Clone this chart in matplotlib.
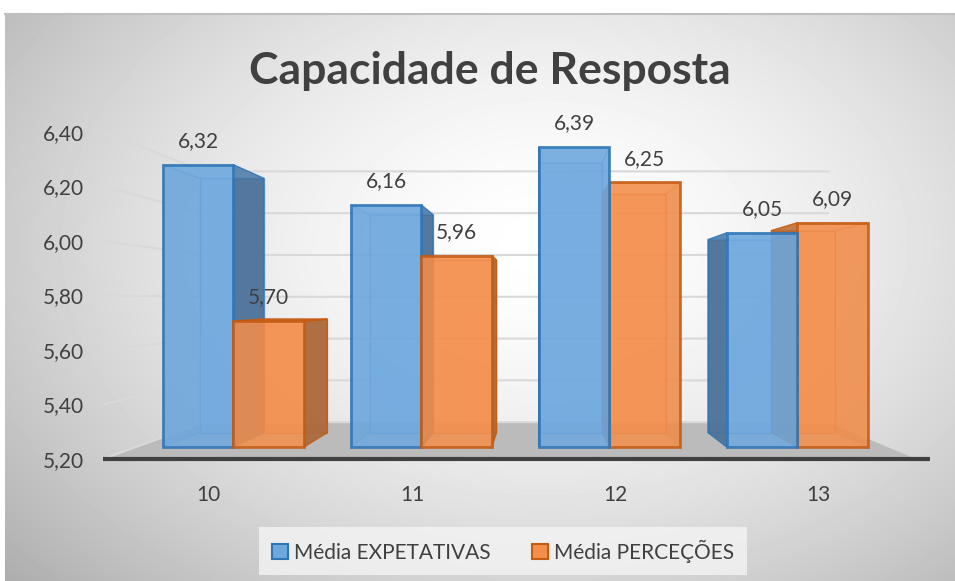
import matplotlib
matplotlib.use('Agg')
import matplotlib.pyplot as plt
import numpy as np
from matplotlib.patches import Polygon, Patch

# data
categories = ['10', '11', '12', '13']
expetativas = [6.32, 6.16, 6.39, 6.05]
percecoes = [5.70, 5.96, 6.25, 6.09]
series_names = ['Média EXPETATIVAS', 'Média PERCEÇÕES']
y_ticks = [5.20, 5.40, 5.60, 5.80, 6.00, 6.20, 6.40]
title = 'Capacidade de Resposta'

FONT = 'Lato'
TXT = '#404040'

# fake 3d: perspective toward a vanishing point (data coords)
VX, VY = 2.14, 5.78
S_FRONT, S_BACK, S_WALL = 0.925, 0.8325, 0.767
BAR_START, BAR_W = 0.145, 0.375
BASE = y_ticks[0]

def P(x, y, s):
  return (VX + (x - VX) * s, VY + (y - VY) * s)

def fmt(v):
  return f'{v:.2f}'.replace('.', ',')

W, H = 955, 581
fig = plt.figure(figsize=(W / 100, H / 100), dpi=100)
fig.patch.set_facecolor('white')

# radial gradient background of the chart area
bg = fig.add_axes([5 / W, 0, 1 - 5 / W, (H - 14) / H])
yy, xx = np.mgrid[0:567, 0:950]
r = np.hypot((xx - 540) / 620.0, (yy - 230) / 430.0)
shade = 1.0 - 0.25 * np.clip(r, 0, 1.3) ** 1.6
bg.imshow(shade, cmap='gray', vmin=0, vmax=1, aspect='auto', interpolation='bilinear')
bg.axis('off')
fig.add_artist(plt.Line2D([5 / W, 1], [1 - 14 / H, 1 - 14 / H], color='#BFBFBF', lw=1.5))

ax = fig.add_axes([103 / W, (H - 459) / H, 813 / W, 327 / H])
ax.patch.set_alpha(0)
ax.set_xlim(0, 4)
ax.set_ylim(5.2, 6.4)
for sp in ax.spines.values():
  sp.set_visible(False)

# floor
floor = [P(0, BASE, 1), P(4, BASE, 1), P(4, BASE, S_WALL), P(0, BASE, S_WALL)]
ax.add_patch(Polygon(floor, closed=True, facecolor='#BBBBBB', edgecolor='none', zorder=1))

# gridlines on side wall and back wall
for v in y_ticks:
  a, b, c = P(0, v, 1), P(0, v, S_WALL), P(4, v, S_WALL)
  ax.plot([a[0], b[0], c[0]], [a[1], b[1], c[1]], color='#D9D9D9', lw=1.5, zorder=2,
          solid_joinstyle='miter')

ax.plot([0, 4.07], [BASE, BASE], color='#404040', lw=3, zorder=3, clip_on=False,
        solid_capstyle='butt')

styles = [
  dict(face='#6EA8DE', side='#4A6F96', edge='#2E75B6'),
  dict(face='#F38F4C', side='#A8673A', edge='#C55A11'),
]

bars = []
for i in range(len(categories)):
  for k, vals in enumerate([expetativas, percecoes]):
    x0 = i + BAR_START + k * BAR_W
    bars.append((x0, x0 + BAR_W, vals[i], k))

# painter's order: bars far from the view axis first
bars.sort(key=lambda b: -abs((b[0] + b[1]) / 2 - VX))

z = 4
for x0, x1, v, k in bars:
  st = styles[k]
  f = [P(x0, BASE, S_FRONT), P(x1, BASE, S_FRONT), P(x1, v, S_FRONT), P(x0, v, S_FRONT)]
  b = [P(x0, BASE, S_BACK), P(x1, BASE, S_BACK), P(x1, v, S_BACK), P(x0, v, S_BACK)]
  left = [f[0], f[3], b[3], b[0]]
  right = [f[1], f[2], b[2], b[1]]
  top = [f[3], f[2], b[2], b[3]]
  ax.add_patch(Polygon(b, facecolor=st['face'], edgecolor=st['edge'], lw=1, alpha=0.55, zorder=z))
  ax.add_patch(Polygon(left, facecolor=st['side'], edgecolor=st['edge'], lw=1,
                       alpha=0.9 if VX < x0 else 0.25, zorder=z))
  ax.add_patch(Polygon(right, facecolor=st['side'], edgecolor=st['edge'], lw=1,
                       alpha=0.9 if VX > x1 else 0.25, zorder=z))
  ax.add_patch(Polygon(top, facecolor=st['face'], edgecolor=st['edge'], lw=1.2,
                       alpha=0.9 if VY > v else 0.3, zorder=z))
  ax.add_patch(Polygon(f, facecolor=st['face'], edgecolor=st['edge'], lw=2, alpha=0.85, zorder=z))
  z += 1
  ax.annotate(fmt(v), xy=P((x0 + x1) / 2, v, S_FRONT), xytext=(0, 17),
              textcoords='offset points', ha='center', va='center',
              fontsize=15, color=TXT, family=FONT, zorder=20)

ax.set_yticks(y_ticks)
ax.set_yticklabels([fmt(t) for t in y_ticks])
ax.set_xticks([i + BAR_START + BAR_W for i in range(len(categories))])
ax.set_xticklabels(categories)
ax.tick_params(axis='y', length=0, pad=14, labelsize=15, labelcolor=TXT)
ax.tick_params(axis='x', length=0, pad=19, labelsize=15, labelcolor=TXT)
for lab in ax.get_xticklabels() + ax.get_yticklabels():
  lab.set_family(FONT)

fig.text(490 / W, 1 - 84 / H, title, ha='center', va='baseline', fontsize=32,
         fontweight='bold', color=TXT, family=FONT)

handles = [Patch(facecolor=s['face'], edgecolor=s['edge'], lw=1.5) for s in styles]
leg = fig.legend(handles, series_names, loc='center', bbox_to_anchor=(503 / W, 1 - 551 / H),
                 ncol=2, frameon=True, facecolor='#F4F4F4', edgecolor='none', fancybox=False,
                 handlelength=0.75, handleheight=0.75, handletextpad=0.3, columnspacing=2.0,
                 borderpad=0.6, prop={'family': FONT, 'size': 15})
for t in leg.get_texts():
  t.set_color(TXT)

fig.savefig('out.png', dpi=100)
